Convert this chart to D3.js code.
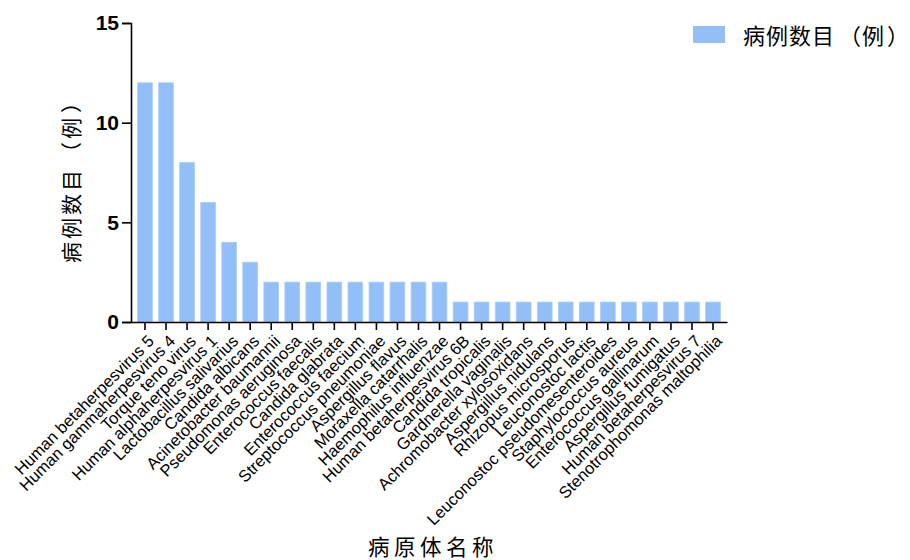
<!DOCTYPE html>
<html>
<head>
<meta charset="utf-8">
<script src="https://cdn.jsdelivr.net/npm/d3@7"></script>
<style>
  body { margin: 0; background: #fff; }
  svg { display: block; }
</style>
</head>
<body>
<div id="chart"></div>
<script>
var pathogens = [
  'Human betaherpesvirus 5', 'Human gammaherpesvirus 4', 'Torque teno virus',
  'Human alphaherpesvirus 1', 'Lactobacillus salivarius', 'Candida albicans',
  'Acinetobacter baumannii', 'Pseudomonas aeruginosa', 'Enterococcus faecalis',
  'Candida glabrata', 'Enterococcus faecium', 'Streptococcus pneumoniae',
  'Aspergillus flavus', 'Moraxella catarrhalis', 'Haemophilus influenzae',
  'Human betaherpesvirus 6B', 'Candida tropicalis', 'Gardnerella vaginalis',
  'Achromobacter xylosoxidans', 'Aspergillus nidulans', 'Rhizopus microsporus',
  'Leuconostoc lactis', 'Leuconostoc pseudomesenteroides', 'Staphylococcus aureus',
  'Enterococcus gallinarum', 'Aspergillus fumigatus', 'Human betaherpesvirus 7',
  'Stenotrophomonas maltophilia'
];
var caseCounts = [12, 12, 8, 6, 4, 3, 2, 2, 2, 2, 2, 2, 2, 2, 2,
                  1, 1, 1, 1, 1, 1, 1, 1, 1, 1, 1, 1, 1];
var yTicks = [0, 5, 10, 15];

var seriesName = '病例数目（例）';
var xTitle = '病原体名称';
var yTitle = '病例数目（例）';

var width = 910;
var height = 560;
var plotLeft = 131, plotRight = 727, plotTop = 23, plotBottom = 322;
var barColor = '#92bff8';
var latin = '"Liberation Sans", Arial, sans-serif';
var cjk = '"Noto Sans CJK SC", "Noto Sans", sans-serif';

var svg = d3.select('#chart').append('svg')
    .attr('width', width)
    .attr('height', height);

// the browser squeezes the full-width brackets, so give them a bit of room back
function cjkText(sel, str, gap) {
    str.split('').forEach(function (ch) {
        var t = sel.append('tspan').text(ch);
        if (ch === '（') t.attr('dx', gap);
        if (ch === '）') t.attr('dx', gap / 2);
    });
    return sel;
}

var x = d3.scaleBand()
    .domain(pathogens)
    .range([plotLeft, plotRight])
    .paddingInner(0.3)
    .paddingOuter(0.315);

var y = d3.scaleLinear()
    .domain([0, 15])
    .range([plotBottom, plotTop]);

// bars
svg.selectAll('rect.bar')
    .data(pathogens)
    .enter().append('rect')
    .attr('class', 'bar')
    .attr('x', d => x(d))
    .attr('width', x.bandwidth())
    .attr('y', (d, i) => y(caseCounts[i]))
    .attr('height', (d, i) => y(0) - y(caseCounts[i]))
    .attr('fill', barColor)
    .attr('stroke', '#a9cdf9')
    .attr('stroke-width', 0.8);

// y axis
var yAxis = svg.append('g')
    .attr('transform', 'translate(' + plotLeft + ',0)')
    .call(d3.axisLeft(y).tickValues(yTicks).tickSize(9).tickPadding(3).tickFormat(d3.format('d')));
yAxis.select('.domain').attr('stroke', '#000').attr('stroke-width', 1.6);
yAxis.selectAll('.tick line').attr('stroke', '#000').attr('stroke-width', 1.6);
yAxis.selectAll('.tick text')
    .attr('font-family', latin)
    .attr('font-size', 21)
    .attr('font-weight', 'bold')
    .attr('fill', '#000');

// x axis
var xAxis = svg.append('g')
    .attr('transform', 'translate(0,' + plotBottom + ')')
    .call(d3.axisBottom(x).tickSize(8).tickSizeOuter(0));
xAxis.select('.domain').attr('stroke', '#000').attr('stroke-width', 1.6);
xAxis.selectAll('.tick line').attr('stroke', '#000').attr('stroke-width', 1.6);
xAxis.selectAll('.tick text')
    .attr('font-family', latin)
    .attr('font-size', 16.5)
    .attr('fill', '#000')
    .attr('text-anchor', 'end')
    .attr('transform', 'translate(6,16) rotate(-45)')
    .attr('x', 0)
    .attr('y', 0)
    .attr('dy', '0.35em');

// axis titles
var yLab = svg.append('text')
    .attr('transform', 'translate(79,176) rotate(-90)')
    .attr('text-anchor', 'middle')
    .attr('font-family', cjk)
    .attr('font-size', 21)
    .attr('letter-spacing', 3)
    .attr('fill', '#000');
cjkText(yLab, yTitle, 4);

svg.append('text')
    .attr('x', 433)
    .attr('y', 555)
    .attr('text-anchor', 'middle')
    .attr('font-family', cjk)
    .attr('font-size', 21.5)
    .attr('letter-spacing', 4.5)
    .attr('fill', '#000')
    .text(xTitle);

// legend
var legend = svg.append('g').attr('transform', 'translate(693,26)');
legend.append('rect')
    .attr('width', 32)
    .attr('height', 17)
    .attr('fill', barColor);
var legText = legend.append('text')
    .attr('x', 50)
    .attr('y', 10)
    .attr('dy', '0.36em')
    .attr('font-family', cjk)
    .attr('font-size', 22)
    .attr('letter-spacing', 1)
    .attr('fill', '#000');
cjkText(legText, seriesName, 4);
</script>
</body>
</html>
